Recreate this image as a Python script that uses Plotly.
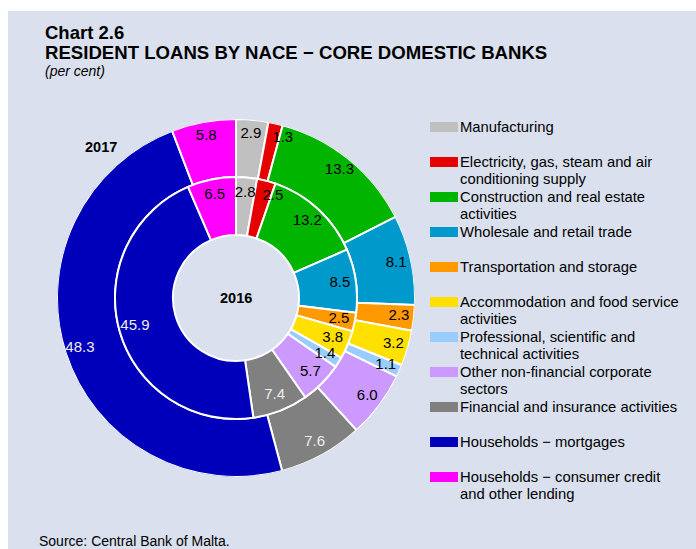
import plotly.graph_objects as go

# ---- data -------------------------------------------------------------
sectors = [
    "Manufacturing",
    "Electricity, gas, steam and air conditioning supply",
    "Construction and real estate activities",
    "Wholesale and retail trade",
    "Transportation and storage",
    "Accommodation and food service activities",
    "Professional, scientific and technical activities",
    "Other non-financial corporate sectors",
    "Financial and insurance activities",
    "Households − mortgages",
    "Households − consumer credit and other lending",
]
legend_text = [
    "Manufacturing",
    "Electricity, gas, steam and air<br>conditioning supply",
    "Construction and real estate<br>activities",
    "Wholesale and retail trade",
    "Transportation and storage",
    "Accommodation and food service<br>activities",
    "Professional, scientific and<br>technical activities",
    "Other non-financial corporate<br>sectors",
    "Financial and insurance activities",
    "Households − mortgages",
    "Households − consumer credit<br>and other lending",
]
share_2016 = [2.8, 2.5, 13.2, 8.5, 2.5, 3.8, 1.4, 5.7, 7.4, 45.9, 6.5]
share_2017 = [2.9, 1.3, 13.3, 8.1, 2.3, 3.2, 1.1, 6.0, 7.6, 48.3, 5.8]

colors = ["#c0c0c0", "#e60000", "#00b400", "#0099cc", "#ff9900", "#ffe000",
          "#99ccff", "#cc99ff", "#808080", "#0000bb", "#ff00ff"]
text_colors = ["#000000"] * 8 + ["#eeeeee", "#eeeeee", "#000000"]

# ---- canvas helpers (pixel -> paper) ----------------------------------
W, H = 696, 549
FONT = "Liberation Sans, Arial, sans-serif"


def fx(px):
    return px / W


def fy(py):
    return 1 - py / H


CX, CY = 236, 298                     # ring centre (px)
R_OUT, R_MID, R_HOLE = 179, 121, 63   # ring radii (px, also radial-axis units)
LABEL_R_OUT, LABEL_R_IN = 164, 105    # radius of the value labels


def ring_angles(values):
    """Centre angle and angular width (degrees) of every slice."""
    total = sum(values)
    widths = [v / total * 360 for v in values]
    mids, acc = [], 0.0
    for w in widths:
        mids.append(acc + w / 2)
        acc += w
    return mids, widths


fig = go.Figure()

rings = [
    # values, inner radius, outer radius, label radius
    (share_2017, R_MID, R_OUT, LABEL_R_OUT),
    (share_2016, R_HOLE, R_MID, LABEL_R_IN),
]

# ring slices
for values, r0, r1, rl in rings:
    mids, widths = ring_angles(values)
    fig.add_trace(go.Barpolar(
        theta=mids, width=widths, base=[r0] * len(values), r=[r1 - r0] * len(values),
        marker=dict(color=colors, line=dict(color="white", width=2)),
        customdata=sectors, hovertemplate="%{customdata}<extra></extra>",
        showlegend=False,
    ))

# value labels on top of the slices
for values, r0, r1, rl in rings:
    mids, widths = ring_angles(values)
    positions = ["middle center"] * len(values)
    positions[1] = "middle right"   # narrow slice next to manufacturing
    fig.add_trace(go.Scatterpolar(
        theta=mids, r=[rl] * len(values), mode="text",
        text=[f"{v:.1f}" for v in values], textposition=positions,
        textfont=dict(family=FONT, size=15, color=text_colors),
        cliponaxis=False, hoverinfo="skip", showlegend=False,
    ))

shapes = [
    # chart panel
    dict(type="rect", xref="paper", yref="paper", x0=fx(8), x1=1, y0=0, y1=fy(11),
         fillcolor="#dae0ed", line=dict(width=0), layer="below"),
]
annotations = [
    dict(text="<b>Chart 2.6</b>", x=fx(43), y=fy(33), font=dict(size=18.5)),
    dict(text="<b>RESIDENT LOANS BY NACE − CORE DOMESTIC BANKS</b>", x=fx(43), y=fy(52),
         font=dict(size=18.6)),
    dict(text="<i>(per cent)</i>", x=fx(43), y=fy(71), font=dict(size=14)),
    dict(text="Source: Central Bank of Malta.", x=fx(37), y=fy(541), font=dict(size=14)),
    dict(text="<b>2017</b>", x=fx(83), y=fy(147), font=dict(size=14.5)),
    dict(text="<b>2016</b>", x=fx(CX), y=fy(CY), xanchor="center", font=dict(size=14.5)),
]

# legend: colour swatch plus wrapped label for every sector
ROW0, ROW_STEP, LINE_STEP = 127, 35, 17
for i, (lab, col) in enumerate(zip(legend_text, colors)):
    yc = ROW0 + i * ROW_STEP
    shapes.append(dict(type="rect", xref="paper", yref="paper",
                       x0=fx(430), x1=fx(458), y0=fy(yc + 5), y1=fy(yc - 5),
                       fillcolor=col, line=dict(width=0)))
    for k, line in enumerate(lab.split("<br>")):
        annotations.append(dict(text=line, x=fx(458), y=fy(yc + k * LINE_STEP),
                                font=dict(size=14.8)))

for a in annotations:
    a.setdefault("xanchor", "left")
    a.update(xref="paper", yref="paper", yanchor="middle", showarrow=False)
    a["font"] = dict(family=FONT, color="black", **a["font"])

fig.update_layout(
    width=W, height=H, margin=dict(l=0, r=0, t=0, b=0),
    paper_bgcolor="white", plot_bgcolor="white",
    font=dict(family=FONT, color="black"),
    polar=dict(
        domain=dict(x=[fx(CX - R_OUT), fx(CX + R_OUT)],
                    y=[fy(CY + R_OUT), fy(CY - R_OUT)]),
        bgcolor="rgba(0,0,0,0)", bargap=0, barmode="overlay",
        radialaxis=dict(range=[0, R_OUT], visible=False),
        angularaxis=dict(rotation=90, direction="clockwise", visible=False),
    ),
    shapes=shapes, annotations=annotations,
)

fig.write_html("out.html")
